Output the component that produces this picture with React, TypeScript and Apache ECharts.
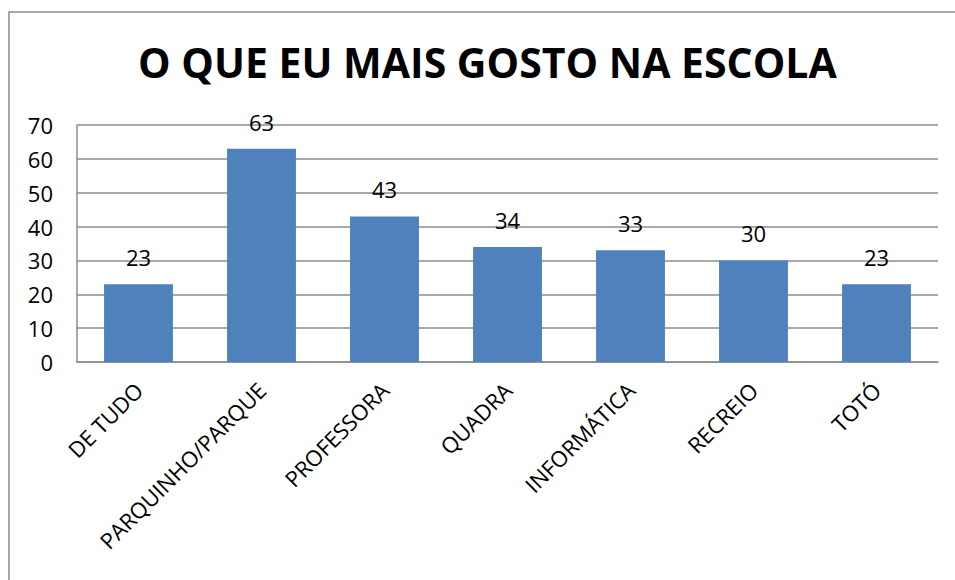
import React, { useEffect, useRef } from "react";
import * as echarts from "echarts";

const titleText = "O QUE EU MAIS GOSTO NA ESCOLA";
const categories = ["DE TUDO", "PARQUINHO/PARQUE", "PROFESSORA", "QUADRA", "INFORMÁTICA", "RECREIO", "TOTÓ"];
const values = [23, 63, 43, 34, 33, 30, 23];

export default function App() {
  const ref = useRef<HTMLDivElement>(null);
  useEffect(() => {
    document.documentElement.style.overflow = "hidden";
    document.body.style.margin = "0";
    document.body.style.overflow = "hidden";
    const chart = echarts.init(ref.current!, null, { renderer: "svg" });
    chart.setOption({
      animation: false,
      backgroundColor: "#ffffff",
      title: {
        text: titleText,
        left: 133,
        top: 36,
        textStyle: { fontFamily: "Open Sans", fontWeight: "bold", fontSize: 41, color: "#000" },
      },
      graphic: [
        {
          type: "polyline",
          shape: { points: [[9, 590], [9, 12], [960, 12]] },
          style: { stroke: "#8c8c8c", lineWidth: 1.5, fill: "none" },
          silent: true,
        },
      ],
      grid: { left: 77, right: 17, top: 125, bottom: 218, containLabel: false },
      xAxis: {
        type: "category",
        data: categories,
        axisLine: { lineStyle: { color: "#8c8c8c", width: 1.5 } },
        axisTick: { show: false },
        axisLabel: {
          rotate: 45,
          interval: 0,
          margin: 24,
          fontFamily: "Open Sans",
          fontSize: 22,
          color: "#000",
        },
      },
      yAxis: {
        type: "value",
        min: 0,
        max: 70,
        interval: 10,
        axisLine: { show: true, lineStyle: { color: "#8c8c8c", width: 1.5 } },
        axisTick: { show: false },
        splitLine: { lineStyle: { color: "#8c8c8c", width: 1.5 } },
        axisLabel: { fontFamily: "Open Sans", fontSize: 22, color: "#000", margin: 24 },
      },
      series: [
        {
          type: "bar",
          data: values,
          barWidth: "56%",
          itemStyle: { color: "#4F81BD" },
          label: {
            show: true,
            position: "top",
            distance: 16,
            fontFamily: "Open Sans",
            fontSize: 22,
            color: "#000",
          },
        },
      ],
    });
    return () => chart.dispose();
  }, []);
  return (
    <div
      ref={ref}
      style={{ position: "fixed", left: 0, top: 0, width: 955, height: 580 }}
    />
  );
}
